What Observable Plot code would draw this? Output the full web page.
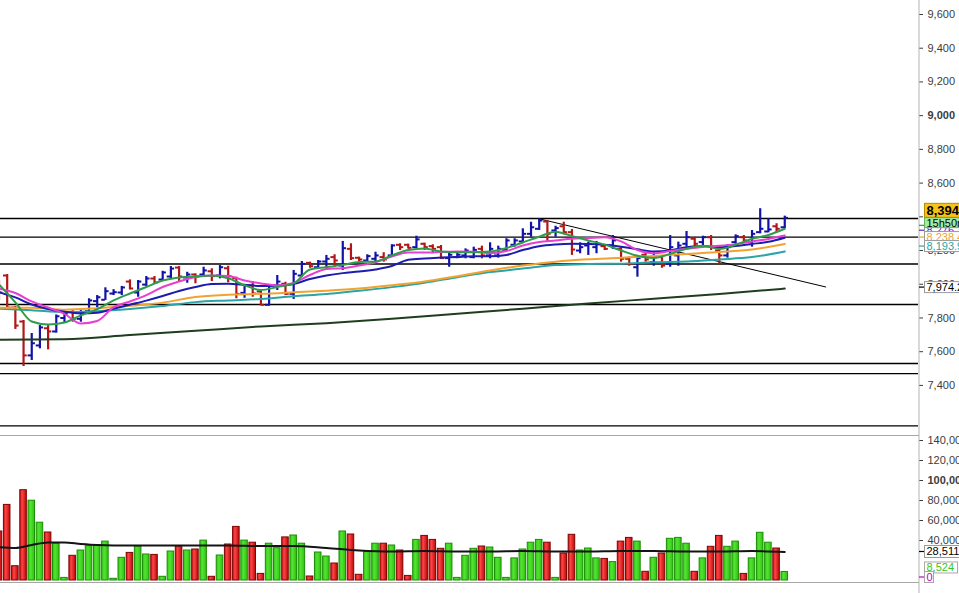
<!DOCTYPE html>
<html><head><meta charset="utf-8">
<script src="https://cdn.jsdelivr.net/npm/d3@7"></script>
<script src="https://cdn.jsdelivr.net/npm/@observablehq/plot@0.6"></script>
<style>
html,body{margin:0;padding:0;background:#fff;overflow:hidden;width:959px;height:593px}
#chart svg{display:block}
</style></head><body><div id="chart"></div>
<script>
// ---------- data ----------
const open = [8004,8052,7862,7779,7578,7637,7739,7720,7800,7835,
 7795,7840,7900,7908,7945,7951,8016,7951,7998,8034,
 8028,8046,8099,8040,8058,8058,8077,8052,8095,8036,
 7949,7993,7957,7878,7993,8003,7943,8052,8127,8101,
 8135,8161,8111,8210,8157,8141,8151,8161,8171,8234,
 8234,8220,8240,8226,8220,8155,8161,8171,8161,8210,
 8171,8171,8204,8234,8254,8299,8329,8372,8319,8344,
 8309,8200,8230,8220,8226,8230,8210,8151,8101,8175,
 8131,8161,8121,8171,8240,8270,8250,8279,8200,8171,
 8250,8279,8250,8309,8313,8344,8338];
const high = [8022,8058,7868,7785,7708,7755,7755,7818,7840,7844,
 7844,7914,7933,7979,7968,7987,8026,8022,8046,8046,
 8077,8105,8105,8071,8062,8101,8092,8111,8107,8042,
 7997,8016,7963,7997,8052,8012,8082,8135,8131,8141,
 8171,8175,8254,8240,8161,8175,8190,8187,8234,8240,
 8238,8285,8244,8234,8230,8190,8190,8210,8220,8226,
 8246,8226,8270,8270,8329,8368,8388,8378,8344,8368,
 8325,8246,8250,8254,8230,8289,8220,8161,8171,8190,
 8190,8171,8289,8250,8313,8279,8285,8289,8220,8234,
 8293,8289,8319,8448,8388,8359,8404];
const low = [7904,7856,7732,7512,7548,7617,7611,7710,7769,7775,
 7775,7834,7860,7904,7933,7933,7967,7923,7987,8003,
 8022,8032,8016,8006,8003,8042,8016,8032,8009,7914,
 7917,7923,7874,7870,7963,7933,7910,8042,8095,8095,
 8092,8101,8082,8141,8135,8135,8135,8131,8161,8200,
 8210,8210,8200,8181,8147,8101,8151,8151,8151,8151,
 8151,8155,8194,8220,8246,8279,8319,8254,8279,8293,
 8171,8181,8171,8181,8200,8206,8131,8107,8042,8131,
 8107,8095,8101,8107,8220,8220,8230,8200,8115,8155,
 8230,8250,8220,8299,8305,8305,8329];
const close = [7951,7862,7755,7578,7650,7744,7720,7810,7825,7795,
 7834,7904,7923,7959,7953,7981,7975,8016,8034,8010,
 8070,8093,8046,8058,8045,8082,8048,8101,8048,7943,
 7993,7945,7878,7993,8016,7943,8062,8121,8107,8135,
 8151,8141,8214,8155,8147,8167,8171,8147,8230,8220,
 8216,8266,8220,8210,8155,8175,8175,8200,8204,8171,
 8210,8210,8260,8260,8299,8338,8378,8299,8333,8309,
 8206,8220,8240,8240,8210,8260,8151,8121,8155,8147,
 8161,8111,8220,8230,8279,8240,8279,8220,8171,8220,
 8285,8260,8299,8329,8325,8329,8394];
const volume = [49000,75600,14300,90300,79800,57800,48000,36800,2600,24700,
 30000,34300,35400,38900,1700,22700,27600,34000,26000,25600,
 3700,29000,34000,30000,31000,39900,3700,25000,36000,53600,
 39900,37800,6600,36800,32300,43100,45000,36800,4000,28000,
 24000,17000,49000,46000,5700,28400,36800,36800,35000,30000,
 4600,40600,44600,40600,31700,36800,2600,24700,31700,34000,
 33000,22700,2600,22100,31000,37800,40600,37800,2600,27000,
 45700,30000,32000,22100,21600,18400,38900,42600,38900,8700,
 22700,27000,41700,42600,36800,8700,22100,33700,44600,33700,
 38900,6600,22100,47700,37800,32000,8524];

// moving averages, sampled at bar indices
const idxEvery2 = d3.range(0, 97, 2);
const idxEvery4 = d3.range(0, 97, 4);
const idxEvery8 = d3.range(0, 97, 8);
const maGreen = [7999,7892,7779,7761,7773,7815,7853,7904,7945,7984,8022,8040,8046,8052,8036,7994,7966,7984,8005,8088,8101,8115,8132,8135,8171,8203,8212,8194,8190,8190,8194,8215,8248,8282,8312,8286,8260,8235,8200,8169,8156,8180,8210,8228,8209,8234,8270,8292,8329];
const maMagenta = [7975,7948,7898,7862,7824,7767,7782,7864,7898,7936,7984,8016,8043,8052,8049,8022,8005,7993,8008,8055,8091,8095,8111,8131,8165,8188,8188,8191,8194,8193,8184,8197,8230,8251,8260,8270,8274,8279,8254,8203,8184,8197,8210,8221,8228,8238,8254,8269,8289];
const maNavy = [7953,7922,7880,7853,7837,7828,7831,7855,7879,7903,7930,7960,7984,8001,8003,7997,7989,7992,8002,8031,8052,8066,8075,8088,8108,8145,8153,8158,8162,8166,8166,8174,8203,8226,8236,8240,8239,8234,8223,8207,8194,8200,8220,8227,8220,8227,8239,8252,8276];
const maOrange = [7860,7860,7849,7858,7872,7891,7925,7938,7943,7952,7962,7975,7994,8016,8048,8082,8111,8134,8148,8157,8168,8180,8191,8206,8238.4];
const maTeal = [7855,7846,7835,7840,7853,7871,7894,7904,7913,7929,7942,7961,7983,8009,8042,8072,8093,8114,8120,8122,8131,8135,8147,8161,8193.9];
const maLong = [7671,7674,7699,7724,7750,7769,7795,7825,7855,7886,7914,7942,7974.2];
const volMaIdx = [0,2,4,6,8,10,12,16,20,24,28,32,36,40,44,48,52,56,60,64,68,72,76,80,84,88,92,96];
const volMa = [33300,32500,35500,38000,38000,36500,35500,35000,35000,35000,35000,34500,34500,32500,30000,29000,29500,29000,29000,29500,29000,29000,29500,29500,29000,29000,29500,28511];

const levels = [8390, 8280, 8120, 7880, 7530, 7470, 7160];
const trendIdx = [66, 101];
const trendVal = [8388, 7984];
const priceTicks = [7400,7600,7800,8000,8200,8400,8600,8800,9000,9200,9400,9600];
const volTicks = [40000,60000,80000,100000,120000,140000];

// ---------- build ----------
const W = 959, PH = 436, VH = 157, PLOT_R = 918;
const xDomain = [0.1833, 112.34];
const BLUE = "#1212a6", RED = "#b31616";
const FONT = "'Liberation Sans', Arial, sans-serif";

const bars = open.map((o, i) => ({i, o, h: high[i], l: low[i], c: close[i], up: close[i] >= o}));
const series = (idx, vals) => idx.map((i, k) => ({i, v: vals[k]}));
const maLine = (idx, vals, color, w = 2) =>
  Plot.line(series(idx, vals), {x: "i", y: "v", stroke: color, strokeWidth: w, curve: "monotone-x"});

const priceChart = Plot.plot({
  width: W, height: PH, marginLeft: 0, marginRight: W - PLOT_R, marginTop: 0, marginBottom: 0,
  style: {background: "transparent", fontFamily: FONT, fontSize: "11px", color: "#3c3c3c", overflow: "hidden"},
  x: {domain: xDomain, range: [0, PLOT_R], axis: null},
  y: {domain: [7097, 9683], range: [PH, 0], axis: "right", ticks: priceTicks,
      tickFormat: d3.format(","), tickSize: 4, tickPadding: 5, label: null},
  color: {type: "identity"},
  marks: [
    Plot.ruleY(levels, {stroke: "#000", strokeWidth: 1.3}),
    Plot.line(series(trendIdx, trendVal), {x: "i", y: "v", stroke: "#000", strokeWidth: 1}),
    Plot.ruleX(bars, {x: "i", y1: "l", y2: "h", stroke: d => d.up ? BLUE : RED, strokeWidth: 2.2}),
    Plot.ruleY(bars, {y: "o", x1: d => d.i - 0.45, x2: "i", stroke: d => d.up ? BLUE : RED, strokeWidth: 2}),
    Plot.ruleY(bars, {y: "c", x1: "i", x2: d => d.i + 0.45, stroke: d => d.up ? BLUE : RED, strokeWidth: 2}),
    maLine(idxEvery8, maLong, "#1f3d1f"),
    maLine(idxEvery4, maTeal, "#2aa5a5"),
    maLine(idxEvery4, maOrange, "#f2a22e"),
    maLine(idxEvery2, maNavy, "#1c1cae"),
    maLine(idxEvery2, maMagenta, "#e83fd0"),
    maLine(idxEvery2, maGreen, "#2f9c4c")
  ]
});

const gradDefs = () => {
  const defs = document.createElementNS("http://www.w3.org/2000/svg", "defs");
  defs.innerHTML =
    '<linearGradient id="gDown" x1="0" x2="1" y1="0" y2="0">' +
    '<stop offset="0" stop-color="#c21414"/><stop offset="0.35" stop-color="#ff4444"/>' +
    '<stop offset="1" stop-color="#bb0a0a"/></linearGradient>' +
    '<linearGradient id="gUp" x1="0" x2="1" y1="0" y2="0">' +
    '<stop offset="0" stop-color="#34c614"/><stop offset="0.4" stop-color="#52e432"/>' +
    '<stop offset="1" stop-color="#30c010"/></linearGradient>';
  return defs;
};

const volData = volume.map((v, i) => ({i, v, up: bars[i].up}));
const volChart = Plot.plot({
  width: W, height: VH, marginLeft: 0, marginRight: W - PLOT_R, marginTop: 0, marginBottom: 0,
  style: {background: "transparent", fontFamily: FONT, fontSize: "11px", color: "#3c3c3c", overflow: "hidden"},
  x: {domain: xDomain, range: [0, PLOT_R], axis: null},
  y: {domain: [0, 140000], range: [144, 4], axis: "right", ticks: volTicks,
      tickFormat: d3.format(","), tickSize: 4, tickPadding: 5, label: null},
  color: {type: "identity"},
  marks: [
    gradDefs,
    Plot.rect(volData, {x1: d => d.i - 0.4, x2: d => d.i + 0.4, y1: 0, y2: "v",
      fill: d => d.up ? "url(#gUp)" : "url(#gDown)",
      stroke: d => d.up ? "#1c8e06" : "#7e0404", strokeWidth: 1}),
    Plot.line(series(volMaIdx, volMa), {x: "i", y: "v", stroke: "#141414", strokeWidth: 2, curve: "monotone-x"})
  ]
});

const root = document.getElementById("chart");
root.appendChild(priceChart);
root.appendChild(volChart);

// ---------- decorations derived from the scales ----------
function boldRound(svg, labels) {
  svg.querySelectorAll("text").forEach(t => {
    if (labels.includes(t.textContent.trim())) t.setAttribute("font-weight", "bold");
  });
}
boldRound(priceChart, ["9,000"]);
boldRound(volChart, ["100,000"]);

function frameLines(svg, h, bottomY) {
  const s = d3.select(svg);
  s.append("line").attr("x1", PLOT_R + 1).attr("x2", PLOT_R + 1).attr("y1", 0).attr("y2", h)
    .attr("stroke", "#b4b4b4").attr("stroke-width", 1);
  s.append("line").attr("x1", 0).attr("x2", PLOT_R + 1).attr("y1", bottomY).attr("y2", bottomY)
    .attr("stroke", "#a8a8a8").attr("stroke-width", 1);
}
const yv = volChart.scale("y");
frameLines(priceChart, PH, PH - 0.5);
frameLines(volChart, VH, yv.apply(0) + 2.5);

function tag(svg, yc, h, w, text, o = {}) {
  const g = d3.select(svg).append("g").attr("text-anchor", "start");
  if (o.tick) g.append("line").attr("x1", PLOT_R + 1).attr("x2", PLOT_R + 6)
    .attr("y1", o.tickY ?? yc).attr("y2", o.tickY ?? yc).attr("stroke", o.tick).attr("stroke-width", 1.2);
  g.append("rect").attr("x", PLOT_R + 6.5).attr("y", yc - h / 2).attr("width", w).attr("height", h)
    .attr("fill", o.bg || "#fff").attr("stroke", o.border || "#9a9a9a").attr("stroke-width", 1);
  g.append("text").attr("x", PLOT_R + 8.5).attr("y", yc).attr("dy", "0.36em")
    .attr("text-anchor", "start")
    .attr("fill", o.color || "#000").attr("font-family", FONT).attr("font-size", o.size || 11)
    .attr("font-weight", o.bold ? "bold" : null).text(text);
}
const yp = priceChart.scale("y");
const last = close[close.length - 1];
tag(priceChart, yp.apply(maNavy[maNavy.length - 1]) - 7, 11, 44, "8,276.1", {color: "#5a2ad0", tick: "#5a2ad0"});
tag(priceChart, yp.apply(maOrange[maOrange.length - 1]) - 6.5, 11, 44, d3.format(",.1f")(maOrange[maOrange.length - 1]), {color: "#f0a030", tick: "#f0a030"});
tag(priceChart, yp.apply(maTeal[maTeal.length - 1]) - 5, 11, 44, d3.format(",.1f")(maTeal[maTeal.length - 1]), {color: "#2aa5a5", tick: "#2aa5a5"});
tag(priceChart, yp.apply(last) + 5.3, 10, 44, "15h50m", {bg: "#a6eaa0", border: "#5fb35a", tick: "#2f9c4c", tickY: yp.apply(last) + 8});
tag(priceChart, yp.apply(last) - 7, 14, 44, d3.format(",")(last), {bg: "#f6c419", border: "#b58c00", bold: true, size: 13});
tag(priceChart, yp.apply(maLong[maLong.length - 1]) - 1, 11, 44, d3.format(",.1f")(maLong[maLong.length - 1]), {tick: "#000"});

tag(volChart, yv.apply(volMa[volMa.length - 1]), 12, 44, d3.format(",")(volMa[volMa.length - 1]), {tick: "#000"});
tag(volChart, yv.apply(volume[volume.length - 1]) - 4, 11, 33, d3.format(",")(volume[volume.length - 1]), {color: "#3cc41c", border: "#a8a8a8"});
tag(volChart, yv.apply(0) - 3, 11, 9, "0", {color: "#c400c4", border: "#a8a8a8", tick: "#c400c4"});
</script>
</body></html>
